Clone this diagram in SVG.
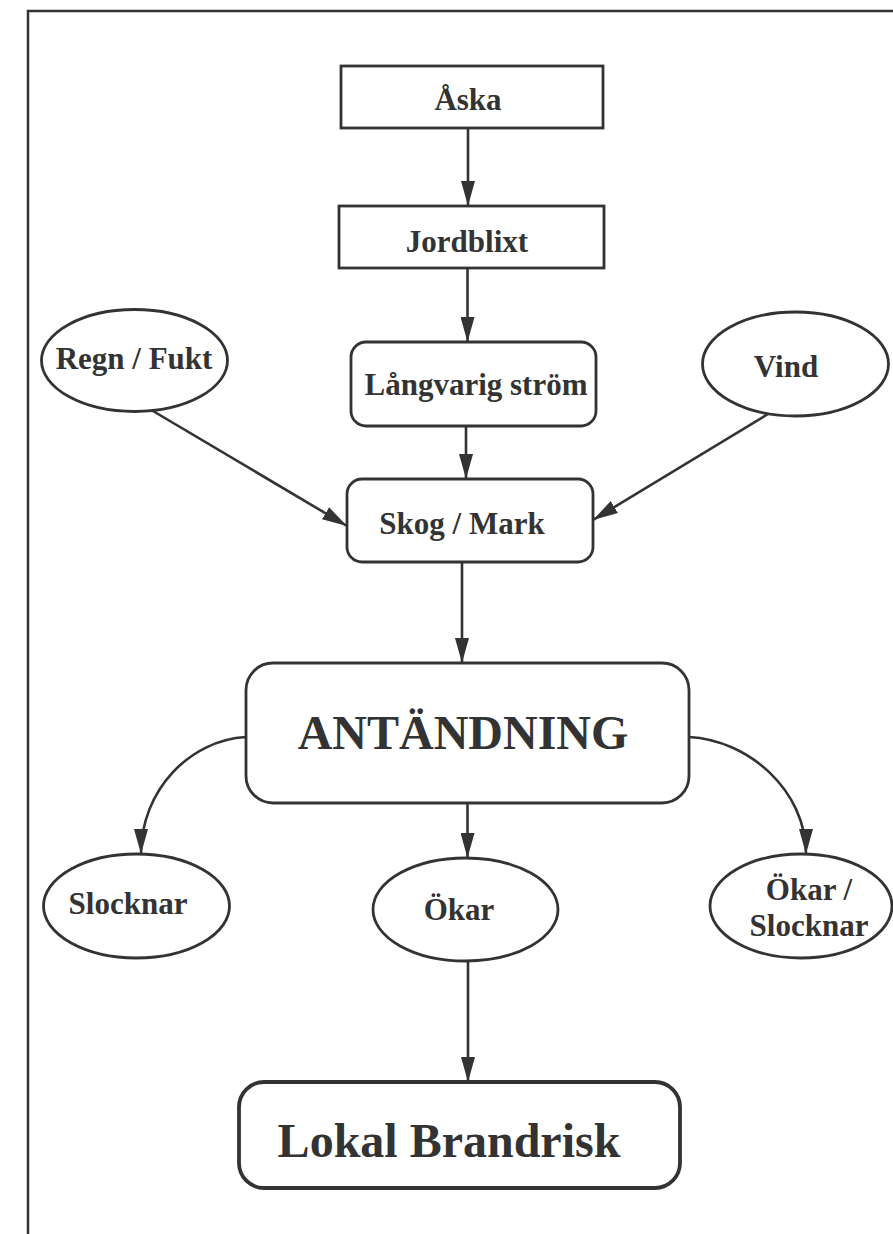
<svg xmlns="http://www.w3.org/2000/svg" width="893" height="1234" viewBox="0 0 893 1234">
<defs>
<style>
.box{fill:#fff;stroke:#333;stroke-width:2.8}
.thick{stroke-width:3.8}
.lbl{font-family:"Liberation Serif","Times New Roman",serif;font-weight:bold;font-size:31px;fill:#333;text-anchor:middle}
.big{font-size:48px}
.con{fill:none;stroke:#333;stroke-width:2.6}
</style>
<marker id="ah" markerUnits="userSpaceOnUse" markerWidth="26" markerHeight="14" refX="25" refY="7" orient="auto" viewBox="0 0 26 14">
<path d="M0,0 L25,7 L0,14 Z" fill="#333"/>
</marker>
</defs>
<rect width="893" height="1234" fill="#fff"/>
<path d="M28,1234 V11 H893" fill="none" stroke="#333" stroke-width="2.5"/>

<g id="connectors">
<path class="con" marker-end="url(#ah)" d="M468,128 V206"/>
<path class="con" marker-end="url(#ah)" d="M467.5,268 V342"/>
<path class="con" marker-end="url(#ah)" d="M466,426 V479"/>
<path class="con" marker-end="url(#ah)" d="M153,411 L347,526"/>
<path class="con" marker-end="url(#ah)" d="M768,414 L593,520"/>
<path class="con" marker-end="url(#ah)" d="M462,562 V663"/>
<path class="con" marker-end="url(#ah)" d="M246,737 C190,740 141,790 141,854"/>
<path class="con" marker-end="url(#ah)" d="M467.5,803 V858"/>
<path class="con" marker-end="url(#ah)" d="M689,737 C748,740 806,790 806,854"/>
<path class="con" marker-end="url(#ah)" d="M468,961 V1082"/>
</g>

<g id="aska">
<rect class="box" x="341" y="66" width="262" height="62"/>
<text class="lbl" x="468" y="110">Åska</text>
</g>
<g id="jordblixt">
<rect class="box" x="339" y="206" width="265" height="62"/>
<text class="lbl" x="467" y="252">Jordblixt</text>
</g>
<g id="langvarig">
<rect class="box" x="351" y="342" width="245" height="84" rx="15"/>
<text class="lbl" x="476" y="395">Långvarig ström</text>
</g>
<g id="regn">
<ellipse class="box" cx="134.5" cy="360.5" rx="93" ry="51"/>
<text class="lbl" x="134" y="369">Regn / Fukt</text>
</g>
<g id="vind">
<ellipse class="box" cx="795.5" cy="364" rx="93" ry="52"/>
<text class="lbl" x="786" y="377">Vind</text>
</g>
<g id="skog">
<rect class="box" x="347" y="479" width="246" height="83" rx="15"/>
<text class="lbl" x="462" y="534">Skog / Mark</text>
</g>
<g id="antandning">
<rect class="box" x="246" y="663" width="443" height="140" rx="27"/>
<text class="lbl big" x="463" y="749">ANTÄNDNING</text>
</g>
<g id="slocknar">
<ellipse class="box" cx="136.5" cy="906" rx="93" ry="52"/>
<text class="lbl" x="128" y="914">Slocknar</text>
</g>
<g id="okar">
<ellipse class="box" cx="465.5" cy="909.5" rx="92.5" ry="51.5"/>
<text class="lbl" x="459" y="920">Ökar</text>
</g>
<g id="okar-slocknar">
<ellipse class="box" cx="801" cy="906" rx="91" ry="52"/>
<text class="lbl" x="809" y="900">Ökar /</text>
<text class="lbl" x="809" y="936">Slocknar</text>
</g>
<g id="lokal">
<rect class="box thick" x="239" y="1082" width="441" height="106" rx="25"/>
<text class="lbl big" x="449" y="1157">Lokal Brandrisk</text>
</g>
</svg>
